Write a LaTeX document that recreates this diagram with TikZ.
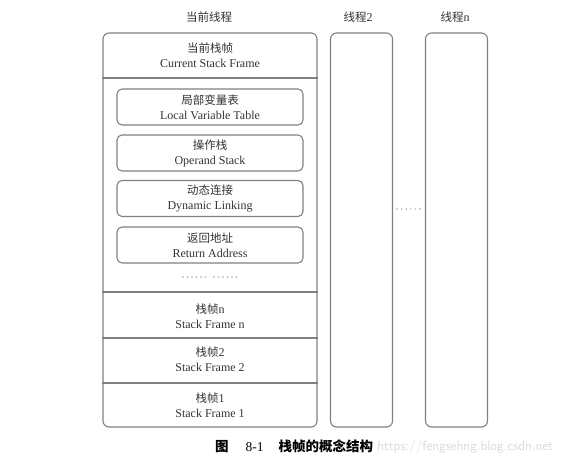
\documentclass[tikz,border=0pt]{standalone}
\usepackage{fontspec}
\setmainfont{Liberation Serif}
\newfontfamily\cjk{Noto Sans CJK SC}
\usepackage{tikz}
\usetikzlibrary{positioning}

\definecolor{boxgray}{gray}{0.5}
\definecolor{txtgray}{gray}{0.2}

\begin{document}
\begin{tikzpicture}[x=1pt,y=-1pt]
			\tikzstyle{Thread}	= [draw=boxgray, line width=1.1pt, rounded corners=6pt, minimum width=62pt, minimum height=394pt, inner sep=0pt]
			\tikzstyle{Slot}	= [draw=boxgray, line width=1.1pt, rounded corners=5pt, minimum width=186pt, minimum height=36pt, inner sep=0pt]
			\tikzstyle{Label}	= [align=center, text=txtgray, font=\fontsize{12}{15}\selectfont, inner sep=0pt]
			\tikzstyle{Title}	= [text=txtgray, font=\fontsize{12}{14}\selectfont, inner sep=0pt]
			\tikzstyle{Divide}	= [draw=boxgray, line width=1.1pt]
			\tikzstyle{Dot}		= [circle, fill=gray!70, inner sep=0pt, minimum size=1.6pt]

			\newcommand{\zh}[1]{{\cjk\fontsize{11.5}{15}\selectfont #1}}

			\useasboundingbox (0,0) rectangle (570,468);

			% threads
			\node (t1) at (210,230) [Thread][minimum width=214pt] {};
			\node (t2) at (361.5,230) [Thread] {};
			\node (tn) at (456.5,230) [Thread] {};

			\node (t1title) at (209,17) [Title] {\zh{当前线程}};
			\node (t2title) at (358,17) [Title] {\zh{线程}2};
			\node (tntitle) at (455,17) [Title] {\zh{线程}n};

			\foreach \i in {0,...,5} \node (td\i) at (397+4.6*\i,209) [Dot] {};

			% current frame
			\node (cur) at (210,55) [Label] {\zh{当前栈帧}\\Current Stack Frame};
			\draw [Divide] (t1.west |- 0,78) -- (t1.east |- 0,78);

			\node (lvt) at (210,107) [Slot] {};
			\node (ops) at (210,153) [Slot] {};
			\node (dyn) at (210,198.5) [Slot] {};
			\node (ret) at (210,245) [Slot] {};

			\node at (lvt) [Label] {\zh{局部变量表}\\Local Variable Table};
			\node at (ops) [Label] {\zh{操作栈}\\Operand Stack};
			\node at (dyn) [Label] {\zh{动态连接}\\Dynamic Linking};
			\node at (ret) [Label] {\zh{返回地址}\\Return Address};

			\foreach \i in {0,...,5} {
				\node (fa\i) at (183+4.5*\i,277) [Dot] {};
				\node (fb\i) at (214+4.5*\i,277) [Dot] {};
			}

			% other frames
			\draw [Divide] (t1.west |- 0,292) -- (t1.east |- 0,292);
			\draw [Divide] (t1.west |- 0,338) -- (t1.east |- 0,338);
			\draw [Divide] (t1.west |- 0,383) -- (t1.east |- 0,383);

			\node (fn) at (210,316) [Label] {\zh{栈帧}n\\Stack Frame n};
			\node (f2) at (210,359) [Label] {\zh{栈帧}2\\Stack Frame 2};
			\node (f1) at (210,405.5) [Label] {\zh{栈帧}1\\Stack Frame 1};

			% caption
			\node (cap) at (294,446) [font=\fontsize{13.5}{15}\selectfont, inner sep=0pt] {{\cjk\bfseries 图}\hspace{17pt}8-1\hspace{15pt}{\cjk\bfseries 栈帧的概念结构}};
			\node (mark) [right=4pt of cap.east, yshift=-1pt, text=gray!30, font=\sffamily\fontsize{13.5}{16}\selectfont, inner sep=0pt] {https://fengsehng.blog.csdn.net};
		\end{tikzpicture}
\end{document}
